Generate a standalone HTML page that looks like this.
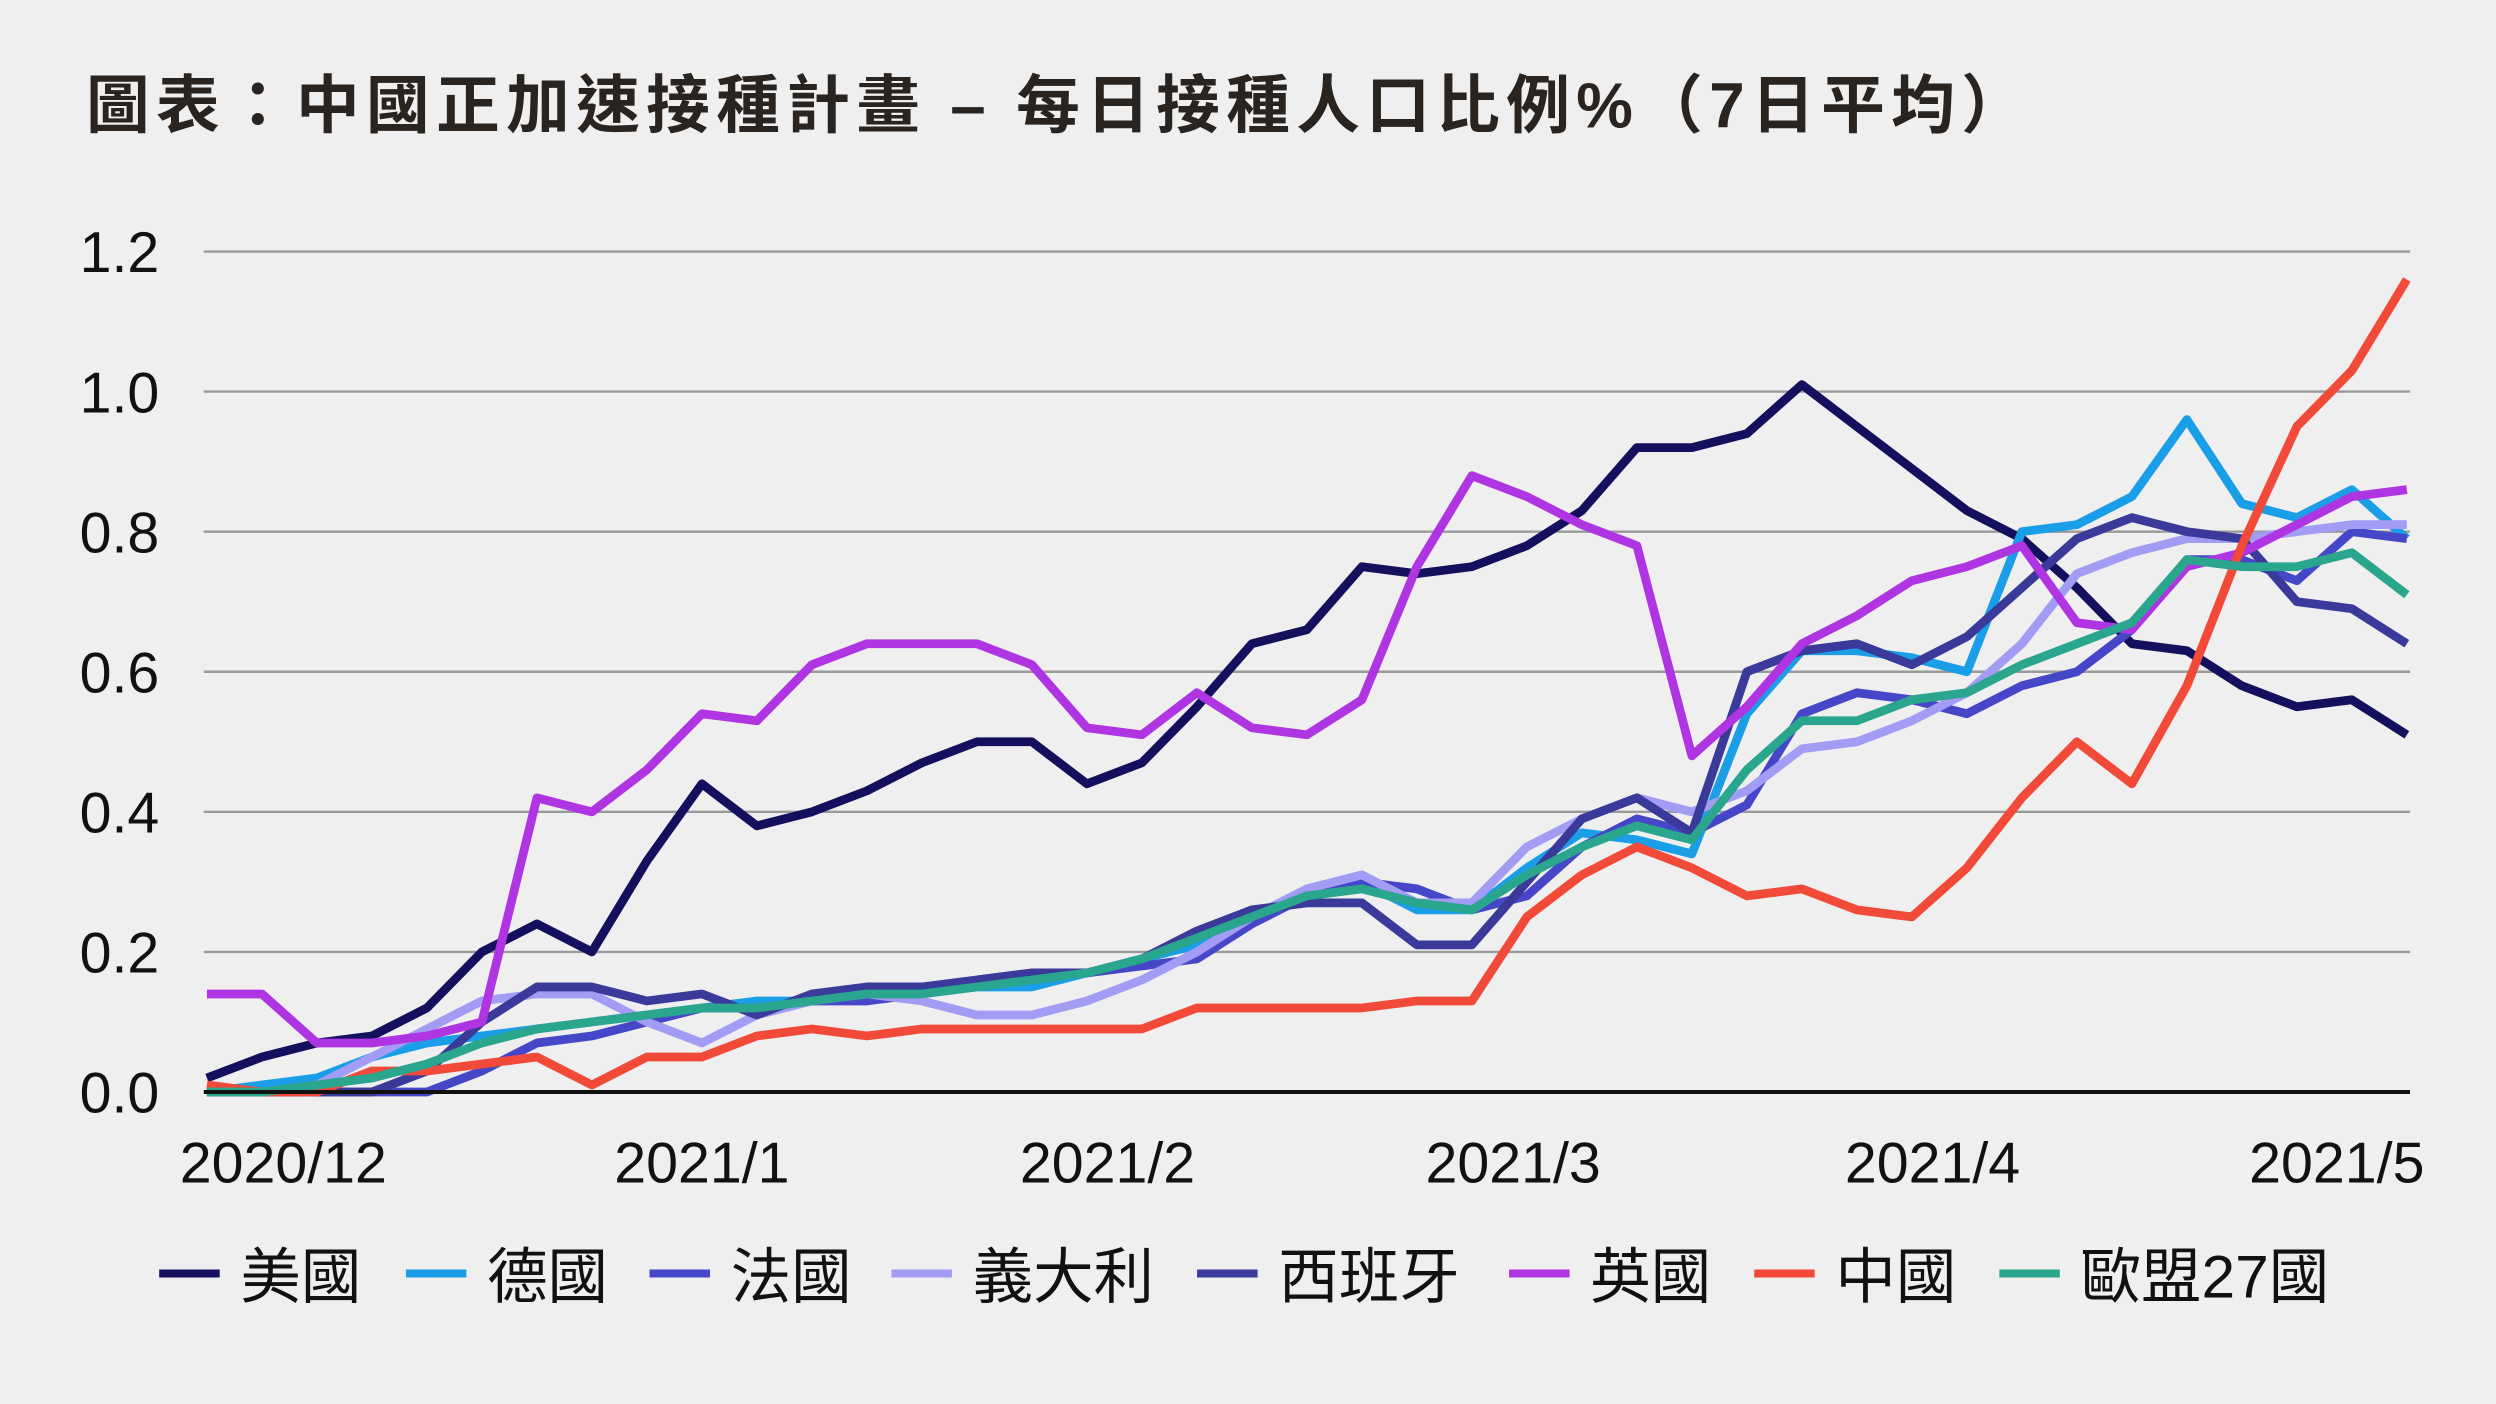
<!DOCTYPE html>
<html><head><meta charset="utf-8"><style>
html,body{margin:0;padding:0;background:#efefef;}
svg{display:block;}
</style></head><body>
<svg id="chart" width="2496" height="1404" viewBox="0 0 1568 882" xmlns="http://www.w3.org/2000/svg" font-family="'Liberation Sans','Noto Sans CJK TC',sans-serif">
<rect width="1568" height="882" fill="#efefef"/>
<text x="54" y="80" font-size="40" font-weight="bold" letter-spacing="4" fill="#2a2420">圖表：中國正加速接種計畫 – 每日接種人口比例%（7日平均）</text>
<g id="grid"></g>
<g id="series"></g>
<g id="legend"></g>
</svg>
<script>
const days = [0,4,8,12,16,20,24,28,32,36,40,44,48,52,56,60,64,68,72,76,80,84,88,92,96,100,104,108,112,116,120,124,128,132,136,140,144,148,152,156,160];
const yTicks = [0,0.2,0.4,0.6,0.8,1.0,1.2];
const yTickLabels = ["0.0","0.2","0.4","0.6","0.8","1.0","1.2"];
const xTickDays = [5.5,36,65.5,95,125.5,155.5];
const xTickLabels = ["2020/12","2021/1","2021/2","2021/3","2021/4","2021/5"];
const seriesNames = ["美國","德國","法國","義大利","西班牙","英國","中國","歐盟27國"];
const usValues = [.02,.05,.07,.08,.12,.2,.24,.2,.33,.44,.38,.40,.43,.47,.50,.50,.44,.47,.55,.64,.66,.75,.74,.75,.78,.83,.92,.92,.94,1.01,.95,.89,.83,.79,.72,.64,.63,.58,.55,.56,.51];
const germanyValues = [0,.01,.02,.05,.07,.08,.09,.1,.11,.12,.13,.13,.14,.14,.15,.15,.17,.19,.21,.25,.28,.3,.26,.26,.32,.37,.36,.34,.54,.63,.63,.62,.6,.8,.81,.85,.96,.84,.82,.86,.79];
const franceValues = [0,0,0,0,0,.03,.07,.08,.1,.12,.12,.13,.13,.14,.16,.17,.17,.18,.19,.24,.28,.3,.29,.26,.28,.35,.39,.37,.41,.54,.57,.56,.54,.58,.60,.66,.76,.76,.73,.80,.79];
const italyValues = [0,0,.01,.05,.09,.13,.14,.14,.10,.07,.11,.13,.14,.13,.11,.11,.13,.16,.2,.25,.29,.31,.27,.27,.35,.39,.42,.40,.43,.49,.50,.53,.57,.64,.74,.77,.79,.79,.8,.81,.81];
const spainValues = [0,0,0,0,.03,.1,.15,.15,.13,.14,.11,.14,.15,.15,.16,.17,.17,.19,.23,.26,.27,.27,.21,.21,.3,.39,.42,.37,.6,.63,.64,.61,.65,.72,.79,.82,.80,.79,.70,.69,.64];
const ukValues = [.14,.14,.07,.07,.08,.10,.42,.40,.46,.54,.53,.61,.64,.64,.64,.61,.52,.51,.57,.52,.51,.56,.75,.88,.85,.81,.78,.48,.55,.64,.68,.73,.75,.78,.67,.66,.75,.77,.81,.85,.86];
const chinaValues = [.01,0,0,.03,.03,.04,.05,.01,.05,.05,.08,.09,.08,.09,.09,.09,.09,.09,.12,.12,.12,.12,.13,.13,.25,.31,.35,.32,.28,.29,.26,.25,.32,.42,.50,.44,.58,.78,.95,1.03,1.16];
const euValues = [0,0,.01,.02,.04,.07,.09,.10,.11,.12,.12,.13,.14,.14,.15,.16,.17,.19,.22,.25,.28,.29,.27,.26,.31,.35,.38,.36,.46,.53,.53,.56,.57,.61,.64,.67,.76,.75,.75,.77,.71];

const allValues = [usValues,germanyValues,franceValues,italyValues,spainValues,ukValues,chinaValues,euValues];
const colors = ["#14105e","#1a9ee8","#4646c8","#a29cf4","#3a3a9a","#b035e2","#f24a38","#2aa58e"];
const keys = ["us","germany","france","italy","spain","uk","china","eu"];
const NS = "http://www.w3.org/2000/svg";
const x = d => 130 + d * (1382/160);
const y = v => 686 - v * 440;

const grid = document.getElementById('grid');
yTicks.forEach((t,i)=>{
  if (t>0){
    const l=document.createElementNS(NS,'line');
    l.setAttribute('x1',128);l.setAttribute('x2',1514);l.setAttribute('y1',y(t));l.setAttribute('y2',y(t));
    l.setAttribute('stroke','#9a9a9a');l.setAttribute('stroke-width','1.5');
    
    
    grid.appendChild(l);
  }
  const tx=document.createElementNS(NS,'text');
  tx.setAttribute('x',50);tx.setAttribute('y',y(t)+13);tx.setAttribute('font-size','36');tx.setAttribute('fill','#111');
  tx.textContent=yTickLabels[i];
  
  
  grid.appendChild(tx);
});
xTickDays.forEach((d,i)=>{
  const tx=document.createElementNS(NS,'text');
  let px=x(d);
  if(i===0) px=178; if(i===xTickLabels.length-1) px=1468;
  tx.setAttribute('x',px);tx.setAttribute('y',743);tx.setAttribute('font-size','36');tx.setAttribute('fill','#111');
  tx.setAttribute('text-anchor','middle');
  tx.textContent=xTickLabels[i];
  
  
  grid.appendChild(tx);
});

const sg=document.getElementById('series');
allValues.forEach((vals,si)=>{
  const p=document.createElementNS(NS,'polyline');
  p.setAttribute('points',vals.map((v,i)=>x(days[i])+','+y(v)).join(' '));
  p.setAttribute('fill','none');p.setAttribute('stroke',colors[si]);p.setAttribute('stroke-width','5.5');
  p.setAttribute('stroke-linejoin','round');
  
  
  sg.appendChild(p);
});
const ax=document.createElementNS(NS,'line');
ax.setAttribute('x1',128);ax.setAttribute('x2',1514);ax.setAttribute('y1',686);ax.setAttribute('y2',686);
ax.setAttribute('stroke','#111');ax.setAttribute('stroke-width','2.5');


sg.appendChild(ax);

const lg=document.getElementById('legend');
const legX=[100,255,408,560,752,948,1102,1256];
seriesNames.forEach((n,i)=>{
  const g=document.createElementNS(NS,'g');
  
  
  const l=document.createElementNS(NS,'line');
  l.setAttribute('x1',legX[i]);l.setAttribute('x2',legX[i]+38);l.setAttribute('y1',800);l.setAttribute('y2',800);
  l.setAttribute('stroke',colors[i]);l.setAttribute('stroke-width','5');
  
  
  const t=document.createElementNS(NS,'text');
  t.setAttribute('x',legX[i]+51);t.setAttribute('y',815);t.setAttribute('font-size','38');t.setAttribute('fill','#111');
  t.textContent=n;
  
  
  g.appendChild(l);g.appendChild(t);lg.appendChild(g);
});
</script>
</body></html>
